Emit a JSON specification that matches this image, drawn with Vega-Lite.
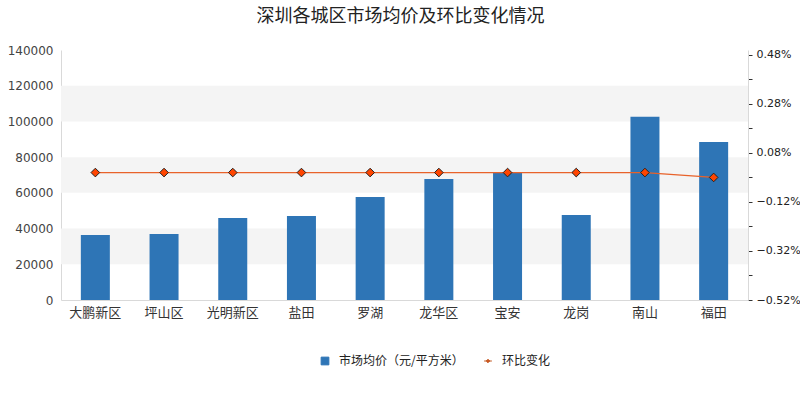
{
  "$schema": "https://vega.github.io/schema/vega-lite/v6.json",
  "width": 687,
  "height": 250,
  "autosize": {"type": "none"},
  "padding": {"left": 61, "top": 50, "right": 52, "bottom": 100},
  "background": "#ffffff",
  "title": {
    "text": "深圳各城区市场均价及环比变化情况",
    "fontSize": 18,
    "fontWeight": "normal",
    "color": "#222222",
    "font": "Noto Sans CJK SC",
    "offset": 18,
    "dx": -4
  },
  "datasets": {
    "bands": [
      {"from": 20000, "to": 40000},
      {"from": 60000, "to": 80000},
      {"from": 100000, "to": 120000}
    ]
  },
  "data": {
    "values": [
      {"district": "大鹏新区", "price": 36400, "change": 0},
      {"district": "坪山区", "price": 36960, "change": 0},
      {"district": "光明新区", "price": 45920, "change": 0},
      {"district": "盐田", "price": 47040, "change": 0},
      {"district": "罗湖", "price": 57680, "change": 0},
      {"district": "龙华区", "price": 67760, "change": 0},
      {"district": "宝安", "price": 71680, "change": 0},
      {"district": "龙岗", "price": 47600, "change": 0},
      {"district": "南山", "price": 102650, "change": 0},
      {"district": "福田", "price": 88480, "change": -0.02}
    ]
  },
  "layer": [
    {
      "data": {"name": "bands"},
      "mark": {"type": "rect", "color": "#f4f4f4"},
      "encoding": {
        "y": {"field": "from", "type": "quantitative", "scale": {"domain": [0, 140000]}, "axis": null},
        "y2": {"field": "to"}
      }
    },
    {
      "layer": [
        {
          "mark": {"type": "bar", "width": 29},
          "encoding": {
            "x": {
              "field": "district",
              "type": "nominal",
              "sort": null,
              "scale": {"paddingInner": 0, "paddingOuter": 0},
              "axis": {
                "title": null,
                "labelAngle": 0,
                "ticks": false,
                "domainColor": "#d9d9d9",
                "labelFontSize": 13,
                "labelColor": "#333333",
                "labelPadding": 6,
                "labelFont": "Noto Sans CJK SC"
              }
            },
            "y": {
              "field": "price",
              "type": "quantitative",
              "scale": {"domain": [0, 140000]},
              "axis": {
                "title": null,
                "values": [0, 20000, 40000, 60000, 80000, 100000, 120000, 140000],
                "format": "d",
                "ticks": false,
                "labelPadding": 8,
                "minExtent": 50,
                "maxExtent": 50,
                "domainColor": "#d9d9d9",
                "gridColor": "#dedede",
                "labelFontSize": 12,
                "labelColor": "#444444",
                "labelFont": "DejaVu Sans"
              }
            },
            "color": {
              "datum": "市场均价（元/平方米）",
              "type": "nominal",
              "scale": {
                "domain": ["市场均价（元/平方米）", "环比变化"],
                "range": ["#2e75b6", "#e0541c"]
              },
              "legend": {
                "title": null,
                "orient": "none",
                "legendX": 258,
                "legendY": 305,
                "direction": "horizontal",
                "labelFontSize": 12,
                "labelFont": "Noto Sans CJK SC",
                "labelColor": "#222222",
                "symbolSize": 60,
                "columnPadding": 18,
                "symbolStrokeWidth": 1,
                "labelOffset": 8,
                "encode": {
                  "symbols": {
                    "update": {
                      "shape": {"signal": "datum.label === '环比变化' ? 'M-1,0L1,0M0,-0.45L0.45,0L0,0.45L-0.45,0Z' : 'square'"},
                      "stroke": {"signal": "datum.label === '环比变化' ? '#c0561f' : '#2e75b6'"},
                      "fill": {"signal": "datum.label === '环比变化' ? '#e0541c' : '#2e75b6'"}
                    }
                  }
                }
              }
            }
          }
        },
        {
          "layer": [
            {
              "mark": {"type": "line", "color": "#e8622a", "strokeWidth": 1.2},
              "encoding": {}
            },
            {
              "mark": {"type": "point", "filled": true, "shape": "diamond", "size": 75, "fill": "#ff4500", "stroke": "#222222", "strokeWidth": 1, "opacity": 1},
              "encoding": {}
            }
          ],
          "encoding": {
            "x": {"field": "district", "type": "nominal", "sort": null},
            "y": {
              "field": "change",
              "type": "quantitative",
              "scale": {"domain": [-0.52, 0.5], "nice": false, "zero": false},
              "axis": {
                "title": null,
                "orient": "right",
                "values": [-0.52, -0.42, -0.32, -0.22, -0.12, -0.02, 0.08, 0.18, 0.28, 0.38, 0.48],
                "labelExpr": "indexof([-0.52, -0.32, -0.12, 0.08, 0.28, 0.48], round(datum.value * 100) / 100) >= 0 ? format(datum.value, '.2f') + '%' : ''",
                "grid": false,
                "tickSize": 4,
                "tickColor": "#333333",
                "domainColor": "#d9d9d9",
                "labelPadding": 4,
                "labelFontSize": 11,
                "labelColor": "#222222",
                "labelFont": "DejaVu Sans"
              }
            }
          }
        }
      ],
      "resolve": {"scale": {"y": "independent"}}
    }
  ],
  "config": {
    "view": {"stroke": null},
    "axis": {"labelFlush": false}
  }
}
